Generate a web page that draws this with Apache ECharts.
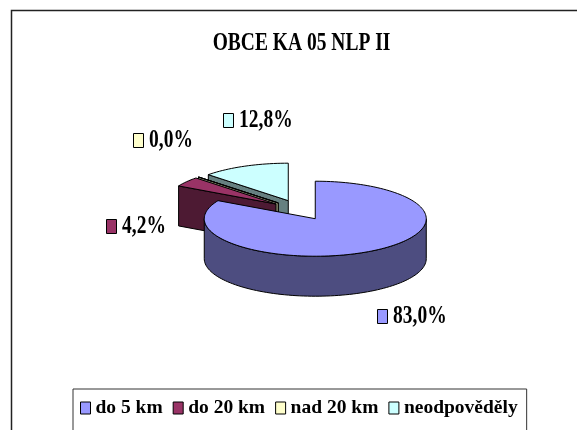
<!DOCTYPE html>
<html>
<head>
<meta charset="utf-8">
<title>OBCE KA 05 NLP II</title>
<script src="https://cdn.jsdelivr.net/npm/echarts@6/dist/echarts.min.js"></script>
<style>
  html, body { margin: 0; padding: 0; background: #fff; }
  #main { width: 577px; height: 430px; }
</style>
</head>
<body>
<div id="main"></div>
<script>
// data
const categories = ['do 5 km', 'do 20 km', 'nad 20 km', 'neodpověděly'];
const values = [83.0, 4.2, 0.0, 12.8];
const topColors = ['#9999FF', '#993366', '#FFFFCC', '#CCFFFF'];
const sideColors = ['#4D4D80', '#4D1A33', '#808066', '#668080'];

// layout of the flattened 3d pie and of the labels
const FONT = 'Liberation Serif';
const pie = { cx: 300, cy: 210, rx: 111, ry: 37.5, depth: 40, explode: 0.27 };
const labelPos = [[377, 316], [106, 226], [133, 140], [223, 120]];

const total = values.reduce((a, b) => a + b, 0);
const starts = [];
let acc = 0;
values.forEach(v => { starts.push(acc / total * 360); acc += v; });

// back slices get drawn first
const order = values.map((v, i) => i).sort((a, b) => {
  const ma = starts[a] + values[a] / total * 180;
  const mb = starts[b] + values[b] / total * 180;
  return -Math.cos(rad(ma)) + Math.cos(rad(mb));
});
const rank = [];
order.forEach((idx, r) => { rank[idx] = r; });

function rad(a) { return a * Math.PI / 180; }
function fmt(v) { return v.toFixed(1).replace('.', ',') + '%'; }

const renderItem = function (params, api) {
  const i = params.seriesIndex;
  const a0 = starts[i];
  const a1 = a0 + values[i] / total * 360;
  const mid = (a0 + a1) / 2;
  const ox = pie.cx + pie.explode * pie.rx * Math.sin(rad(mid));
  const oy = pie.cy - pie.explode * pie.ry * Math.cos(rad(mid));
  const z = rank[i] * 10;
  const line = { stroke: '#000', lineWidth: 1, lineJoin: 'round' };

  const pt = (a, dy) => [ox + pie.rx * Math.sin(rad(a)), oy - pie.ry * Math.cos(rad(a)) + (dy || 0)];
  const arc = (b0, b1, dy) => {
    const n = Math.max(1, Math.ceil((b1 - b0) / 2));
    const pts = [];
    for (let k = 0; k <= n; k++) pts.push(pt(b0 + (b1 - b0) * k / n, dy));
    return pts;
  };
  const children = [];

  // cut faces
  const wall = a => {
    const o = pt(a);
    return {
      type: 'polygon', z2: z + 1,
      shape: { points: [[ox, oy], o, [o[0], o[1] + pie.depth], [ox, oy + pie.depth]] },
      style: Object.assign({ fill: sideColors[i] }, line)
    };
  };
  if (Math.cos(rad(a0 - 90)) < -1e-6) children.push(wall(a0));
  if (Math.cos(rad(a1 + 90)) < -1e-6) children.push(wall(a1));

  // outer wall, front half only
  const f0 = Math.max(a0, 90), f1 = Math.min(a1, 270);
  if (f1 > f0) {
    const pts = arc(f0, f1, 0).concat(arc(f0, f1, pie.depth).reverse());
    children.push({
      type: 'polygon', z2: z + 2,
      shape: { points: pts },
      style: Object.assign({ fill: sideColors[i] }, line)
    });
  }

  // top face
  children.push({
    type: 'polygon', z2: z + 3,
    shape: { points: [[ox, oy]].concat(arc(a0, a1, 0)) },
    style: Object.assign({ fill: topColors[i] }, line)
  });

  // label with key
  const lx = labelPos[i][0], ly = labelPos[i][1];
  children.push({
    type: 'rect', z2: 100,
    shape: { x: lx + 0.5, y: ly - 6.5, width: 10, height: 14 },
    style: { fill: topColors[i], stroke: '#000', lineWidth: 1 }
  });
  children.push({
    type: 'text', z2: 100, x: lx + 16, y: ly + 1, scaleY: 1.27,
    style: {
      text: fmt(values[i]), font: 'bold 19.5px "' + FONT + '"', fill: '#000',
      align: 'left', verticalAlign: 'middle', textAlign: 'left', textVerticalAlign: 'middle'
    }
  });

  return { type: 'group', children: children };
};

const myChart = echarts.init(document.getElementById('main'));

const legendText = {
  fontFamily: FONT,
  fontWeight: 'bold',
  fontSize: 19.5,
  color: '#000'
};

const option = {
  animation: false,
  textStyle: { fontFamily: FONT },
  graphic: [
    {
      type: 'rect', silent: true,
      shape: { x: 11.5, y: 10.5, width: 700, height: 480 },
      style: { fill: 'none', stroke: '#222', lineWidth: 1.5 }
    },
    {
      type: 'text', x: 301.5, y: 44, scaleY: 1.27, silent: true,
      style: {
        text: 'OBCE KA 05 NLP II', font: 'bold 19.5px "' + FONT + '"', fill: '#000',
        align: 'center', verticalAlign: 'middle', textAlign: 'center', textVerticalAlign: 'middle'
      }
    }
  ],
  legend: {
    data: categories.map(name => ({ name: name, textStyle: legendText })),
    left: 73,
    top: 389,
    icon: 'rect',
    itemWidth: 10,
    itemHeight: 12,
    itemGap: 10,
    padding: [9, 9, 16, 7],
    borderColor: '#333',
    borderWidth: 1,
    backgroundColor: '#fff',
    selectedMode: false,
    itemStyle: { borderColor: '#000', borderWidth: 1 },
    textStyle: legendText
  },
  series: categories.map((name, i) => ({
    type: 'custom',
    name: name,
    coordinateSystem: 'none',
    silent: true,
    itemStyle: { color: topColors[i] },
    data: [[values[i]]],
    renderItem: renderItem
  }))
};

myChart.setOption(option);
</script>
</body>
</html>
